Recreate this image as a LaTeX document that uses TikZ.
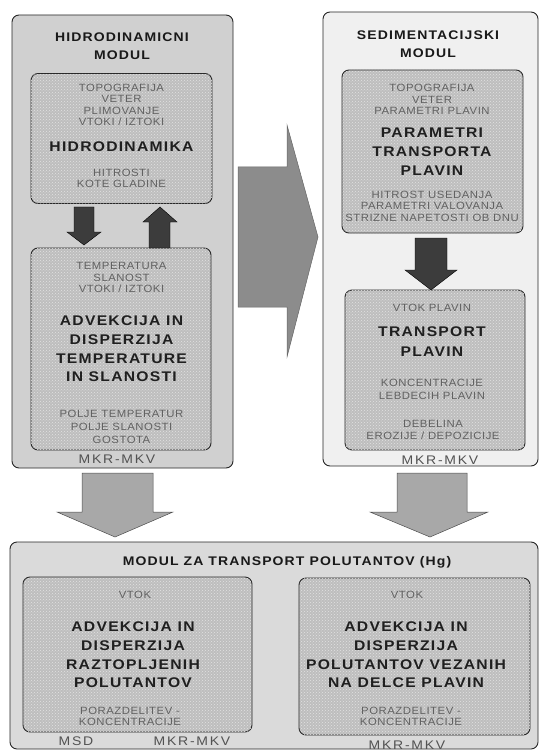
\documentclass[tikz,border=0pt]{standalone}
\usepackage{fontspec}
\usepackage{tikz}
\usetikzlibrary{positioning, calc, patterns}
\setmainfont{Liberation Sans}
\newfontfamily\spsmall[FakeStretch=1.08, LetterSpace=5]{Liberation Sans}
\newfontfamily\spbold[FakeStretch=1.12, LetterSpace=9]{Liberation Sans}
\newfontfamily\spmeth[FakeStretch=1.12, LetterSpace=14]{Liberation Sans}
\definecolor{hydgray}{HTML}{D0D0D0}
\definecolor{sedgray}{HTML}{F0F0F0}
\definecolor{polgray}{HTML}{DADADA}
\definecolor{calcgray}{HTML}{BEBEBE}
\definecolor{arrgray}{HTML}{8C8C8C}
\definecolor{arrlight}{HTML}{A8A8A8}
\definecolor{arrdark}{HTML}{3C3C3C}
\tikzset{
  modbox/.style={draw=black!85, line width=0.9pt, rounded corners=7pt},
  calcbox/.style={draw=black!85, line width=0.9pt, rounded corners=7pt, fill=calcgray,
    postaction={pattern=crosshatch dots, pattern color=white!55!calcgray}},
  intext/.style={font=\spsmall\fontsize{10.5}{11.5}\selectfont, text=black!62, align=center, inner sep=0pt},
  maintext/.style={font=\spbold\bfseries\fontsize{14}{18.7}\selectfont, text=black!88, align=center, inner sep=0pt},
  modtitle/.style={font=\spbold\bfseries\fontsize{12.5}{18.5}\selectfont, text=black!90, align=center, inner sep=0pt},
  methtext/.style={font=\spmeth\fontsize{12.5}{13}\selectfont, text=black!68, inner sep=0pt},
  blockarr/.style={fill=arrgray, draw=black!60, line width=0.5pt},
  lightarr/.style={fill=arrlight, draw=black!70, line width=0.5pt},
  darkarr/.style={fill=arrdark, draw=black, line width=0.4pt}
}

\begin{document}
\begin{tikzpicture}[x=1pt, y=-1pt]
    \useasboundingbox (0,0) rectangle (540,751);

    % hidrodinamicni modul
    \node[modbox, fill=hydgray, minimum width=221pt, minimum height=453pt] (hydmod) at (122.5,241.5) {};
    \node[modtitle] (hydtitle) at (122,46) {HIDRODINAMICNI\\MODUL};
    \node[calcbox, minimum width=181pt, minimum height=130pt] (hyd) at (121.5,138.5) {};
    \node[intext] (hydin) at (121.5,105) {TOPOGRAFIJA\\VETER\\PLIMOVANJE\\VTOKI / IZTOKI};
    \node[maintext] (hydname) at (121.5,147) {HIDRODINAMIKA};
    \node[intext] (hydout) at (121.5,178.5) {HITROSTI\\KOTE GLADINE};
    \node[calcbox, minimum width=180pt, minimum height=202pt] (adv) at (121,349) {};
    \node[intext] (advin) at (121.5,277.5) {TEMPERATURA\\SLANOST\\VTOKI / IZTOKI};
    \node[maintext] (advname) at (121.5,349) {ADVEKCIJA IN\\DISPERZIJA\\TEMPERATURE\\IN SLANOSTI};
    \node[intext, font=\spsmall\fontsize{10.5}{13}\selectfont] (advout) at (121.5,426.5) {POLJE TEMPERATUR\\POLJE SLANOSTI\\GOSTOTA};
    \node[methtext] (hydmeth) at (117,459) {MKR-MKV};

    % sedimentacijski modul
    \node[modbox, fill=sedgray, minimum width=215pt, minimum height=454pt] (sedmod) at (430.5,239) {};
    \node[modtitle] (sedtitle) at (428,44) {SEDIMENTACIJSKI\\MODUL};
    \node[calcbox, minimum width=181pt, minimum height=163pt] (par) at (432.5,151.5) {};
    \node[intext] (parin) at (432,99.5) {TOPOGRAFIJA\\VETER\\PARAMETRI PLAVIN};
    \node[maintext] (parname) at (432,151.5) {PARAMETRI\\TRANSPORTA\\PLAVIN};
    \node[intext] (parout) at (432,206) {HITROST USEDANJA\\PARAMETRI VALOVANJA\\STRIZNE NAPETOSTI OB DNU};
    \node[calcbox, minimum width=180pt, minimum height=160pt] (tra) at (435,370) {};
    \node[intext] (train) at (432,308) {VTOK PLAVIN};
    \node[maintext, font=\spbold\bfseries\fontsize{14}{20}\selectfont] (traname) at (432,342) {TRANSPORT\\PLAVIN};
    \node[intext, font=\spsmall\fontsize{10.5}{13}\selectfont] (traout) at (432,389.5) {KONCENTRACIJE\\LEBDECIH PLAVIN};
    \node[intext] (traout2) at (433,430) {DEBELINA\\EROZIJE / DEPOZICIJE};
    \node[methtext] (sedmeth) at (440,460) {MKR-MKV};

    % modul za transport polutantov
    \node[modbox, fill=polgray, minimum width=528pt, minimum height=207pt] (polmod) at (274,645.5) {};
    \node[modtitle] (poltitle) at (287,562) {MODUL ZA TRANSPORT POLUTANTOV (Hg)};
    \node[calcbox, minimum width=229pt, minimum height=155pt] (raz) at (137.5,654.5) {};
    \node[intext] (razin) at (135,595) {VTOK};
    \node[maintext] (razname) at (133,655) {ADVEKCIJA IN\\DISPERZIJA\\RAZTOPLJENIH\\POLUTANTOV};
    \node[intext] (razout) at (130,716.5) {PORAZDELITEV -\\KONCENTRACIJE};
    \node[methtext] (razmsd) at (76,741) {MSD};
    \node[methtext] (razmeth) at (192,741) {MKR-MKV};
    \node[calcbox, minimum width=231pt, minimum height=157pt] (vez) at (414.5,656.5) {};
    \node[intext] (vezin) at (407,595) {VTOK};
    \node[maintext] (vezname) at (406,655) {ADVEKCIJA IN\\DISPERZIJA\\POLUTANTOV VEZANIH\\NA DELCE PLAVIN};
    \node[intext] (vezout) at (411,716.5) {PORAZDELITEV -\\KONCENTRACIJE};
    \node[methtext] (vezmeth) at (407,745) {MKR-MKV};

    % block arrows
    \filldraw[darkarr] (74,207) -- (94,207) -- (94,232) -- (101,232) -- (84,245) -- (67,232) -- (74,232) -- cycle;
    \filldraw[darkarr] (149,248) -- (170,248) -- (170,222) -- (177,222) -- (160,207) -- (143,222) -- (149,222) -- cycle;
    \filldraw[darkarr] (415,238) -- (447,238) -- (447,270) -- (457,270) -- (431,290) -- (405,270) -- (415,270) -- cycle;
    \filldraw[blockarr] (238,167) -- (287,167) -- (287,125) -- (318,237) -- (287,357) -- (287,307) -- (238,307) -- cycle;
    \filldraw[lightarr] (82,473) -- (153,473) -- (153,512) -- (173,512) -- (115,537) -- (57,512) -- (82,512) -- cycle;
    \filldraw[lightarr] (397,473) -- (467,473) -- (467,512) -- (488,512) -- (430,537) -- (370,512) -- (397,512) -- cycle;
\end{tikzpicture}
\end{document}
